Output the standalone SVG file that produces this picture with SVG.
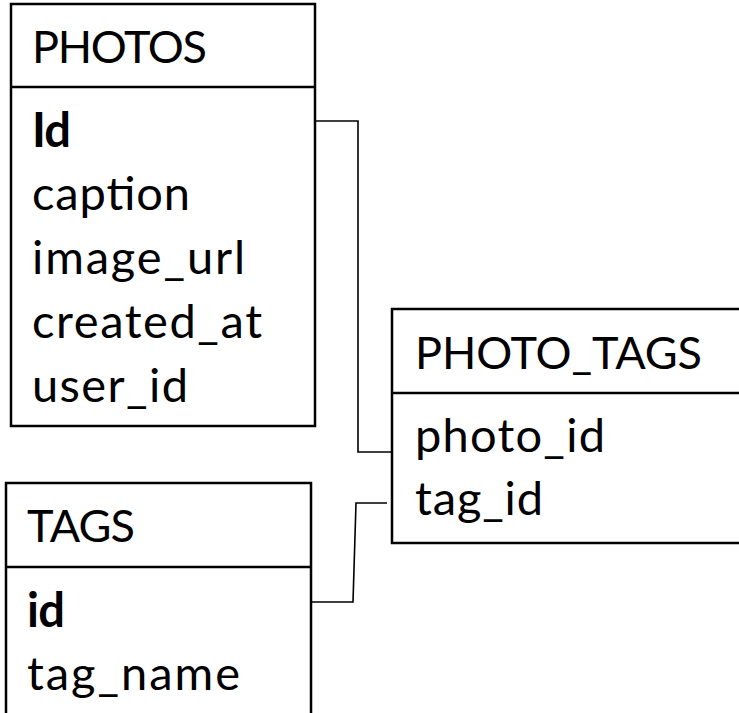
<svg xmlns="http://www.w3.org/2000/svg" width="739" height="713" viewBox="0 0 739 713">
<style>
.box{fill:#fff;stroke:#000;stroke-width:2.5}
.div{stroke:#000;stroke-width:2.5}
.t{font-family:Lato,"Open Sans","Liberation Sans",sans-serif;font-size:47px;fill:#000}
.h{font-size:45px}
.b{font-weight:bold}
.con{fill:none;stroke:#000;stroke-width:1.6}
</style>
<rect width="739" height="713" fill="#fff"/>
<g id="connectors">
<path class="con" d="M315,121 H358 V452 H392"/>
<path class="con" d="M387,503 H356 L353,602 H311"/>
</g>
<g id="photos">
<rect class="box" x="11" y="4" width="304" height="422"/>
<line class="div" x1="11" y1="87" x2="315" y2="87"/>
<text class="t h" x="32" y="63" textLength="175">PHOTOS</text>
<text class="t b" x="32" y="147" textLength="39">Id</text>
<text class="t" x="32" y="210" textLength="158">caption</text>
<text class="t" x="32" y="274" textLength="213">image_url</text>
<text class="t" x="32" y="338" textLength="230">created_at</text>
<text class="t" x="32" y="402" textLength="156">user_id</text>
</g>
<g id="photo_tags">
<rect class="box" x="392" y="309" width="380" height="234"/>
<line class="div" x1="392" y1="393" x2="772" y2="393"/>
<text class="t h" x="415" y="369" textLength="287">PHOTO_TAGS</text>
<text class="t" x="415" y="452" textLength="190">photo_id</text>
<text class="t" x="415" y="515" textLength="128">tag_id</text>
</g>
<g id="tags">
<rect class="box" x="6" y="483" width="305" height="260"/>
<line class="div" x1="6" y1="567" x2="311" y2="567"/>
<text class="t h" x="27" y="542" textLength="108">TAGS</text>
<text class="t b" x="27" y="627" textLength="38">id</text>
<text class="t" x="27" y="690" textLength="213">tag_name</text>
</g>
</svg>
